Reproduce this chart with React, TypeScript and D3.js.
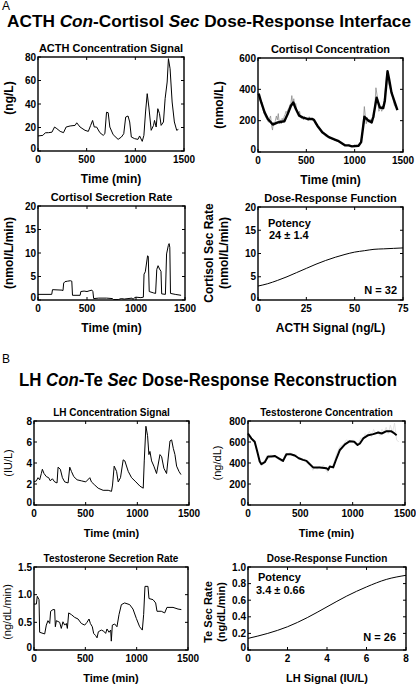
import React from 'react';
import * as d3 from 'd3';

const FONT = "'Liberation Sans', Arial, Helvetica, sans-serif";

// ---------- Panel A data ----------
const acthTime = [0, 50, 75, 109, 143, 170, 194, 228, 262, 289, 330, 381, 398, 432, 483, 517, 541, 561, 578, 602, 636, 670, 687, 704, 721, 738, 772, 823, 857, 881, 901, 925, 942, 959, 993, 1027, 1044, 1071, 1088, 1105, 1122, 1139, 1163, 1187, 1197, 1214, 1231, 1248, 1265, 1289, 1306, 1327, 1340, 1357, 1378, 1401, 1425, 1442];
const acthConc = [12.8, 13.3, 15.5, 15.6, 16, 20.4, 19, 16.7, 15.6, 20.4, 21.3, 21.8, 24, 20.4, 17.6, 16.7, 21.8, 26, 20.4, 20.4, 15.6, 13.3, 14.7, 33, 32.6, 20.4, 13.9, 9.9, 11.9, 14.7, 28.9, 29.8, 24.7, 11.9, 10.5, 9.9, 12.8, 8.2, 13.3, 33.2, 48.8, 37.4, 17.6, 21.8, 26, 20.4, 36, 31.8, 21.8, 24.7, 44.5, 58.7, 78.6, 70, 41.7, 24.7, 17.6, 18.4];

const cortTime = [7, 34, 68, 102, 153, 205, 273, 307, 341, 365, 392, 426, 460, 511, 563, 580, 614, 665, 733, 801, 835, 903, 938, 972, 1040, 1067, 1101, 1142, 1176, 1193, 1227, 1261, 1295, 1312, 1340, 1357, 1381, 1415, 1442];
const cortConc = [373, 316, 253, 211, 175, 189, 196, 242, 295, 316, 274, 232, 221, 211, 211, 204, 168, 126, 95, 78, 69, 42, 42, 36, 40, 63, 225, 200, 189, 225, 347, 284, 280, 326, 516, 463, 379, 316, 267];

const cortRawTime = [0, 10, 20, 40, 50, 60, 70, 80, 90, 100, 110, 120, 130, 140, 150, 160, 170, 180, 190, 200, 210, 220, 230, 240, 250, 260, 270, 280, 290, 300, 310, 320, 330, 340, 350, 360, 370, 380, 390, 400, 410, 420, 430, 440, 450, 460, 470, 480, 490, 500, 510, 520, 530, 540, 550, 560, 570, 580, 590, 600, 620, 640, 660, 680, 700, 720, 740, 760, 780, 800, 820, 840, 860, 880, 900, 920, 940, 960, 980, 1000, 1020, 1040, 1060, 1080, 1090, 1100, 1110, 1120, 1130, 1140, 1150, 1160, 1170, 1180, 1190, 1200, 1210, 1220, 1230, 1240, 1250, 1260, 1270, 1280, 1290, 1300, 1310, 1320, 1330, 1340, 1350, 1360, 1370, 1380, 1390, 1400, 1410, 1420, 1430, 1440];
const cortRaw = [380, 360, 330, 300, 280, 250, 240, 220, 215, 200, 190, 215, 230, 170, 140, 190, 175, 200, 230, 205, 245, 180, 205, 180, 215, 200, 225, 240, 260, 250, 270, 280, 300, 310, 360, 300, 340, 300, 310, 265, 250, 240, 260, 225, 215, 230, 205, 225, 220, 210, 215, 200, 225, 205, 215, 210, 200, 205, 185, 175, 160, 150, 130, 120, 100, 95, 90, 85, 80, 75, 70, 65, 60, 50, 45, 40, 45, 40, 35, 45, 35, 40, 55, 120, 200, 290, 230, 180, 220, 190, 200, 210, 185, 210, 230, 220, 300, 410, 370, 330, 260, 270, 290, 260, 280, 310, 350, 420, 490, 510, 440, 420, 400, 380, 360, 330, 300, 290, 280, 275];

const cortSecTime = [0, 140, 148, 245, 255, 262, 275, 300, 330, 345, 352, 430, 437, 470, 500, 530, 550, 560, 568, 620, 700, 760, 770, 820, 850, 880, 960, 970, 985, 1000, 1050, 1075, 1082, 1095, 1118, 1125, 1135, 1180, 1200, 1212, 1225, 1240, 1255, 1262, 1300, 1312, 1330, 1338, 1345, 1352, 1400, 1460];
const cortSecRate = [1.2, 1.2, 2.2, 2.1, 2.0, 3.6, 3.9, 4.0, 4.1, 4.0, 1.0, 1.0, 1.8, 1.9, 1.8, 2.0, 2.1, 1.8, 0.3, 0.4, 0.4, 0.3, 0.1, 0.1, 0.3, 0.2, 0.4, 0.1, 0.5, 0.6, 0.5, 0.6, 5.5, 6.0, 9.4, 9.3, 1.8, 1.5, 1.4, 6.5, 7.3, 6.6, 6.1, 1.3, 1.2, 9.8, 11.6, 12.0, 11.2, 1.4, 1.2, 1.0];

const acthSignal = [0, 5, 10, 15, 20, 25, 30, 35, 40, 45, 50, 55, 60, 65, 70, 75];
const cortDoseRate = [3.0, 3.5, 4.2, 5.0, 5.9, 6.8, 7.7, 8.5, 9.2, 9.8, 10.3, 10.6, 10.9, 11.0, 11.1, 11.2];

// ---------- Panel B data ----------
const lhTime = [0, 23, 39, 55, 71, 81, 97, 120, 142, 158, 178, 200, 223, 233, 255, 275, 297, 330, 346, 362, 385, 417, 459, 501, 540, 556, 588, 621, 669, 718, 750, 760, 776, 799, 815, 837, 863, 879, 912, 944, 986, 1025, 1057, 1067, 1083, 1099, 1112, 1122, 1138, 1160, 1186, 1219, 1235, 1257, 1283, 1316, 1332, 1348, 1364, 1380, 1403, 1422];
const lhConc = [2.2, 2.3, 2.6, 2.4, 3.0, 3.4, 3.0, 2.7, 2.6, 2.3, 2.5, 2.2, 2.1, 3.6, 3.4, 2.6, 2.2, 2.1, 3.6, 3.2, 2.7, 2.4, 2.3, 2.2, 2.6, 2.2, 1.9, 1.6, 1.4, 1.4, 1.3, 1.9, 3.7, 3.2, 2.2, 2.6, 4.3, 4.2, 3.2, 2.6, 2.2, 1.8, 1.6, 4.2, 7.5, 6.6, 4.8, 5.1, 4.2, 3.7, 3.0, 4.8, 4.6, 3.5, 3.0, 6.1, 6.2, 5.4, 4.8, 3.7, 3.2, 2.9];

const teTime = [0, 32, 64, 89, 112, 128, 160, 191, 223, 255, 294, 335, 367, 408, 447, 485, 527, 559, 581, 622, 686, 750, 766, 782, 814, 846, 878, 926, 973, 1015, 1047, 1069, 1101, 1149, 1197, 1245, 1277, 1324, 1366, 1388, 1420];
const teConc = [681, 634, 602, 508, 414, 389, 408, 461, 461, 467, 445, 420, 483, 483, 471, 445, 430, 420, 398, 358, 358, 351, 336, 367, 358, 445, 524, 577, 608, 602, 571, 586, 634, 665, 675, 690, 681, 703, 703, 690, 665];

const teRawTime = [0, 20, 40, 60, 80, 100, 120, 140, 160, 180, 200, 220, 240, 260, 280, 300, 320, 340, 360, 380, 400, 420, 440, 460, 480, 500, 520, 540, 560, 580, 600, 620, 640, 660, 680, 700, 720, 740, 760, 780, 800, 820, 840, 860, 880, 900, 920, 940, 960, 980, 1000, 1020, 1040, 1060, 1080, 1100, 1120, 1140, 1160, 1180, 1200, 1220, 1240, 1260, 1280, 1300, 1320, 1340, 1360, 1380, 1400, 1420, 1440];
const teRaw = [690, 650, 620, 590, 530, 450, 390, 380, 420, 470, 440, 480, 450, 470, 440, 430, 410, 450, 490, 470, 500, 480, 460, 480, 440, 450, 420, 440, 400, 410, 370, 330, 360, 340, 370, 350, 380, 340, 310, 370, 360, 400, 470, 520, 560, 570, 590, 620, 610, 600, 620, 590, 570, 600, 640, 620, 680, 660, 700, 650, 720, 680, 700, 660, 720, 690, 740, 680, 760, 690, 780, 620, 600];

const teSecTime = [0, 23, 32, 49, 55, 88, 104, 120, 136, 153, 162, 185, 201, 208, 218, 250, 266, 282, 299, 315, 325, 338, 364, 396, 429, 461, 494, 516, 536, 549, 568, 581, 601, 614, 627, 656, 679, 698, 711, 731, 747, 753, 763, 786, 808, 828, 851, 883, 932, 964, 997, 1029, 1055, 1068, 1081, 1110, 1120, 1159, 1185, 1198, 1240, 1273, 1295, 1354, 1403, 1435];
const teSecRate = [0.83, 0.83, 0.97, 0.91, 0.32, 0.30, 0.29, 0.45, 0.53, 0.48, 0.70, 0.73, 0.73, 0.42, 0.53, 0.50, 0.39, 0.51, 0.45, 0.48, 0.39, 0.67, 0.64, 0.59, 0.56, 0.48, 0.45, 0.50, 0.56, 0.48, 0.42, 0.30, 0.26, 0.22, 0.33, 0.36, 0.34, 0.30, 0.38, 0.32, 0.36, 0.16, 0.45, 0.47, 0.42, 0.64, 0.82, 0.85, 0.82, 0.74, 0.57, 0.42, 0.36, 0.64, 1.15, 1.15, 0.93, 0.91, 0.85, 0.70, 0.70, 0.67, 0.77, 0.77, 0.74, 0.73];

const lhSignal = [0, 1, 2, 3, 4, 5, 6, 7, 8];
const teDoseRate = [0.14, 0.2, 0.28, 0.39, 0.52, 0.65, 0.76, 0.85, 0.9];

// ---------- tick values ----------
const timeTicks = [0, 500, 1000, 1500];
const acthTicks = [0, 20, 40, 60, 80];
const cortTicks = [0, 200, 400, 600];
const rate20Ticks = [0, 5, 10, 15, 20];
const acthSignalTicks = [0, 25, 50, 75];
const lhTicks = [0, 2, 4, 6, 8];
const teTicks = [0, 200, 400, 600, 800];
const teSecTicks = [0, 0.5, 1.0, 1.5];
const teDoseTicks = [0, 0.2, 0.4, 0.6, 0.8, 1.0];
const lhSignalTicks = [0, 2, 4, 6, 8];

type Series = { x: number[]; y: number[]; stroke: string; width: number; curve?: any };

type PanelProps = {
  box: [number, number, number, number];
  xDomain: [number, number];
  yDomain: [number, number];
  xTicks: number[];
  yTicks: number[];
  yFormat?: (v: number) => string;
  title: string;
  titleSize: number;
  tickSize: number;
  series: Series[];
  xLabel?: string;
  xLabelSize?: number;
};

function Panel(p: PanelProps) {
  const [l, t, r, b] = p.box;
  const xs = d3.scaleLinear().domain(p.xDomain).range([l, r]);
  const ys = d3.scaleLinear().domain(p.yDomain).range([b, t]);
  const fmt = p.yFormat || ((v: number) => String(v));
  const tl = 3;
  return (
    <g>
      {p.series.map((s, i) => {
        const idx = d3.range(s.x.length);
        const gen = d3
          .line<number>()
          .x((k) => xs(s.x[k]))
          .y((k) => ys(s.y[k]))
          .curve(s.curve || d3.curveLinear);
        return (
          <path key={i} d={gen(idx) || ''} fill="none" stroke={s.stroke} strokeWidth={s.width} strokeLinejoin="round" />
        );
      })}
      <rect x={l} y={t} width={r - l} height={b - t} fill="none" stroke="#000" strokeWidth={1.4} />
      {p.xTicks.map((v) => (
        <g key={'x' + v}>
          <line x1={xs(v)} x2={xs(v)} y1={b} y2={b - tl} stroke="#000" strokeWidth={1} />
          <line x1={xs(v)} x2={xs(v)} y1={t} y2={t + tl} stroke="#000" strokeWidth={1} />
          <text x={xs(v)} y={b + 12} textAnchor="middle" fontSize={p.tickSize} fontWeight="bold" fontFamily={FONT}>
            {v}
          </text>
        </g>
      ))}
      {p.yTicks.map((v) => (
        <g key={'y' + v}>
          <line x1={l} x2={l + tl} y1={ys(v)} y2={ys(v)} stroke="#000" strokeWidth={1} />
          <line x1={r} x2={r - tl} y1={ys(v)} y2={ys(v)} stroke="#000" strokeWidth={1} />
          <text x={l - 2} y={ys(v) - (v === 0 ? 3 : 0)} dy="0.35em" textAnchor="end" fontSize={p.tickSize} fontWeight="bold" fontFamily={FONT}>
            {fmt(v)}
          </text>
        </g>
      ))}
      <text x={(l + r) / 2} y={t - 5} textAnchor="middle" fontSize={p.titleSize} fontWeight="bold" fontFamily={FONT}>
        {p.title}
      </text>
      {p.xLabel && (
        <text x={(l + r) / 2} y={b + 32} textAnchor="middle" fontSize={p.xLabelSize || 12} fontWeight="bold" fontFamily={FONT}>
          {p.xLabel}
        </text>
      )}
    </g>
  );
}

function VLabel({ x, y, text, size, bold = true }: { x: number; y: number; text: string; size: number; bold?: boolean }) {
  return (
    <text
      transform={`translate(${x},${y}) rotate(-90)`}
      textAnchor="middle"
      dominantBaseline="central"
      fontSize={size}
      fontWeight={bold ? 'bold' : 'normal'}
      fontFamily={FONT}
    >
      {text}
    </text>
  );
}

const one = (v: number) => (v === 0 ? '0' : v.toFixed(1));

export default function App() {
  return (
    <svg width={416} height={686} style={{ position: 'absolute', left: 0, top: 0, background: '#fff' }} fontFamily={FONT}>
      <rect x={0} y={0} width={416} height={686} fill="#fff" />
      {/* Section A */}
      <text x={2} y={10} fontSize={12} fontFamily={FONT}>A</text>
      <text x={7} y={27} fontSize={17} fontWeight="bold" fontFamily={FONT} textLength={404} lengthAdjust="spacingAndGlyphs">
        ACTH <tspan fontStyle="italic">Con</tspan>-Cortisol <tspan fontStyle="italic">Sec</tspan> Dose-Response Interface
      </text>

      <Panel
        box={[38, 57, 184, 151]}
        xDomain={[0, 1500]}
        yDomain={[0, 80]}
        xTicks={timeTicks}
        yTicks={acthTicks}
        title="ACTH Concentration Signal"
        titleSize={11}
        tickSize={10}
        xLabel="Time (min)"
        xLabelSize={12}
        series={[{ x: acthTime, y: acthConc, stroke: '#000', width: 1 }]}
      />
      <VLabel x={9} y={98} text="(ng/L)" size={12} />

      <Panel
        box={[258, 58, 403, 152]}
        xDomain={[0, 1500]}
        yDomain={[0, 600]}
        xTicks={timeTicks}
        yTicks={cortTicks}
        title="Cortisol Concentration"
        titleSize={11}
        tickSize={10}
        xLabel="Time (min)"
        xLabelSize={12}
        series={[
          { x: cortRawTime, y: cortRaw, stroke: '#8a8a8a', width: 0.8 },
          { x: cortTime, y: cortConc, stroke: '#000', width: 2.4 },
        ]}
      />
      <VLabel x={219} y={105} text="(nmol/L)" size={12} />

      <Panel
        box={[38, 206, 185, 300]}
        xDomain={[0, 1500]}
        yDomain={[0, 20]}
        xTicks={timeTicks}
        yTicks={rate20Ticks}
        title="Cortisol Secretion Rate"
        titleSize={11}
        tickSize={10}
        xLabel="Time (min)"
        xLabelSize={12}
        series={[{ x: cortSecTime, y: cortSecRate, stroke: '#000', width: 1 }]}
      />
      <VLabel x={9} y={253} text="(nmol/L/min)" size={12} />

      <Panel
        box={[258, 207, 403, 300]}
        xDomain={[0, 75]}
        yDomain={[0, 20]}
        xTicks={acthSignalTicks}
        yTicks={rate20Ticks}
        title="Dose-Response Function"
        titleSize={11}
        tickSize={10}
        xLabel="ACTH Signal (ng/L)"
        xLabelSize={12}
        series={[{ x: acthSignal, y: cortDoseRate, stroke: '#000', width: 1, curve: d3.curveMonotoneX }]}
      />
      <VLabel x={209} y={253} text="Cortisol Sec Rate" size={12} />
      <VLabel x={224} y={253} text="(nmol/L/min)" size={12} />
      <text x={268} y={226.5} fontSize={11} fontWeight="bold" fontFamily={FONT}>Potency</text>
      <text x={269} y={239} fontSize={11} fontWeight="bold" fontFamily={FONT}>24 ± 1.4</text>
      <text x={397} y={294} textAnchor="end" fontSize={11} fontWeight="bold" fontFamily={FONT}>N = 32</text>

      {/* Section B */}
      <text x={2} y={363} fontSize={12} fontFamily={FONT}>B</text>
      <text x={19} y={386} fontSize={18} fontWeight="bold" fontFamily={FONT} textLength={378} lengthAdjust="spacingAndGlyphs">
        LH <tspan fontStyle="italic">Con</tspan>-Te <tspan fontStyle="italic">Sec</tspan> Dose-Response Reconstruction
      </text>

      <Panel
        box={[34, 421, 189, 505]}
        xDomain={[0, 1500]}
        yDomain={[0, 8]}
        xTicks={timeTicks}
        yTicks={lhTicks}
        title="LH Concentration Signal"
        titleSize={10}
        tickSize={10}
        xLabel="Time (min)"
        xLabelSize={11}
        series={[{ x: lhTime, y: lhConc, stroke: '#000', width: 1 }]}
      />
      <VLabel x={8} y={463} text="(IU/L)" size={11} bold={false} />

      <Panel
        box={[248, 421, 405, 505]}
        xDomain={[0, 1500]}
        yDomain={[0, 800]}
        xTicks={timeTicks}
        yTicks={teTicks}
        title="Testosterone Concentration"
        titleSize={10}
        tickSize={10}
        xLabel="Time (min)"
        xLabelSize={11}
        series={[
          { x: teRawTime, y: teRaw, stroke: '#dcdcdc', width: 0.8 },
          { x: teTime, y: teConc, stroke: '#000', width: 2 },
        ]}
      />
      <VLabel x={217} y={463} text="(ng/dL)" size={11} bold={false} />

      <Panel
        box={[34, 567, 188, 650]}
        xDomain={[0, 1500]}
        yDomain={[0, 1.5]}
        xTicks={timeTicks}
        yTicks={teSecTicks}
        yFormat={one}
        title="Testosterone Secretion Rate"
        titleSize={10}
        tickSize={10}
        xLabel="Time (min)"
        xLabelSize={11}
        series={[{ x: teSecTime, y: teSecRate, stroke: '#000', width: 1 }]}
      />
      <VLabel x={7} y={612} text="(ng/dL/min)" size={11} bold={false} />

      <Panel
        box={[248, 567, 406, 650]}
        xDomain={[0, 8]}
        yDomain={[0, 1]}
        xTicks={lhSignalTicks}
        yTicks={teDoseTicks}
        yFormat={one}
        title="Dose-Response Function"
        titleSize={10}
        tickSize={10}
        xLabel="LH Signal (IU/L)"
        xLabelSize={11}
        series={[{ x: lhSignal, y: teDoseRate, stroke: '#000', width: 1, curve: d3.curveMonotoneX }]}
      />
      <VLabel x={208} y={612} text="Te Sec Rate" size={11} />
      <VLabel x={221} y={612} text="(ng/dL/min)" size={11} />
      <text x={258} y={580.5} fontSize={11} fontWeight="bold" fontFamily={FONT}>Potency</text>
      <text x={256} y={594} fontSize={11} fontWeight="bold" fontFamily={FONT}>3.4 ± 0.66</text>
      <text x={396} y={640.5} textAnchor="end" fontSize={11} fontWeight="bold" fontFamily={FONT}>N = 26</text>
    </svg>
  );
}
